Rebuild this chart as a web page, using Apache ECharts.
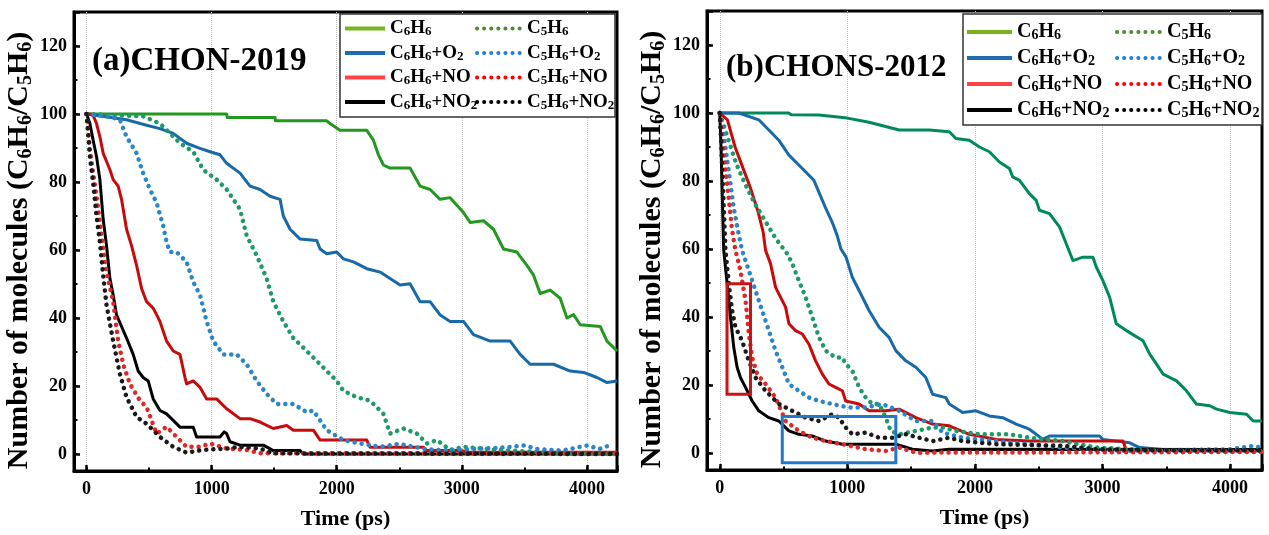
<!DOCTYPE html>
<html><head><meta charset="utf-8">
<script src="https://cdn.jsdelivr.net/npm/echarts@6/dist/echarts.min.js"></script>
<style>html,body{margin:0;padding:0;background:#fff}#c{width:1269px;height:535px}</style>
</head><body><div id="c"></div>
<script>
// ---------- DATA ----------
const solidNames = ['C6H6', 'C6H6+O2', 'C6H6+NO', 'C6H6+NO2'];
const dottedNames = ['C5H6', 'C5H6+O2', 'C5H6+NO', 'C5H6+NO2'];
const panelTitles = ['(a)CHON-2019', '(b)CHONS-2012'];
const xAxisName = 'Time (ps)';
const yAxisName = 'Number of molecules (C6H6/C5H6)';
const xRangeA = [-100, 4240];
const xRangeB = [-100, 4250];
const yRange = [-5, 130];

// Panel (a) CHON-2019
const a_C6H6 = [[0,100],[1120,100],[1125,99],[1507,99],[1510,98],[1920,98],[1946,97.2],[2026,95.2],[2240,95.2],[2293,92.3],[2333,88],[2373,85],[2426,84.1],[2586,84.1],[2666,78.8],[2746,77.8],[2826,74.9],[2906,75.4],[3013,71],[3066,68.1],[3173,68.6],[3253,66.1],[3333,60.3],[3440,59.4],[3520,55.5],[3573,52.6],[3626,47.2],[3706,48.2],[3786,45.8],[3840,40],[3893,41],[3946,38],[4106,37.5],[4160,33.2],[4240,30.3]];
const a_C6H6_O2 = [[0,100],[320,98.3],[480,96.7],[587,95.7],[693,94.3],[800,91.4],[907,89.9],[987,88.9],[1067,88],[1120,85.5],[1227,82.6],[1307,78.8],[1387,77.8],[1467,75.8],[1547,74.9],[1573,70],[1627,66.1],[1707,63.2],[1840,62.8],[1867,60.3],[1920,58.9],[2000,59.4],[2053,57.4],[2133,56.5],[2240,54.5],[2347,53.5],[2426,51.6],[2506,49.7],[2586,50.1],[2666,44.8],[2746,44.8],[2826,40.9],[2906,39],[3013,39],[3093,35.1],[3226,33.2],[3386,33.2],[3466,29.3],[3546,26.4],[3733,26.4],[3866,24.4],[3973,24],[4080,22.5],[4160,21],[4240,21.5]];
const a_C6H6_NO = [[0,100],[27,100],[53,99.6],[80,97.2],[107,93.3],[133,88.5],[187,83.6],[213,80.7],[253,78.8],[280,74.9],[320,66.1],[360,61.3],[400,55.5],[440,48.7],[480,44.8],[533,42.9],[587,39],[640,33.2],[693,30.3],[747,29.3],[787,22.5],[800,20.6],[853,21.5],[907,19.6],[960,16.2],[1040,16.2],[1120,13.3],[1227,10.4],[1307,10.4],[1387,9.4],[1493,7.5],[1600,8.4],[1653,7],[1813,7],[1867,4.1],[2240,4.1],[2266,2],[2693,2],[2720,1],[3000,1],[3050,0.5],[4240,0.5]];
const a_C6H6_NO2 = [[0,100],[27,97.2],[53,92.3],[80,87.5],[107,80.7],[133,69.1],[160,61.3],[187,51.6],[213,46.8],[240,40.9],[280,37.5],[320,34.1],[373,29.3],[413,24.4],[453,22.5],[493,21.5],[533,16.2],[587,12.8],[640,11.8],[693,9.9],[747,7.9],[853,7.9],[880,5],[1067,5],[1100,6.5],[1120,6],[1147,3.6],[1227,2.6],[1413,2.6],[1493,1],[1707,1],[1733,0],[4240,0]];
const a_C5H6 = [[0,100],[453,99.3],[587,97.2],[747,91.4],[853,88.9],[933,83.6],[1040,80.7],[1120,77.8],[1227,72],[1280,64.2],[1360,58.4],[1440,51.6],[1493,44.8],[1573,39],[1653,34.1],[1760,30.3],[1840,27.4],[1920,24.4],[2000,21.5],[2053,18.6],[2160,16.7],[2266,15.7],[2373,11.8],[2426,6],[2533,7.5],[2640,6],[2720,3.1],[2800,4.1],[2906,1.2],[3013,2.1],[3280,1.2],[3546,0.7],[3813,0.2],[4240,0]];
const a_C5H6_O2 = [[0,100],[187,99.2],[267,98.3],[320,93.3],[400,88.5],[453,82.6],[507,77.8],[560,73.9],[613,67.1],[640,62.3],[667,59.4],[720,59.4],[800,56.5],[853,50.6],[907,46.8],[960,39],[1013,33.2],[1093,29.3],[1200,29.3],[1280,26.4],[1360,21.5],[1440,17.7],[1520,14.7],[1653,14.7],[1760,12.3],[1813,12.8],[1920,7],[2053,4.1],[2187,3.1],[2347,2.1],[2500,3],[2700,1.5],[2900,1],[3100,1.5],[3300,1.8],[3500,2.5],[3600,1.5],[3800,1],[4000,2.5],[4100,1.5],[4200,2.8]];
const a_C5H6_NO = [[0,100],[13,95.3],[27,89.4],[53,82.6],[80,75.8],[107,68.1],[133,60.3],[160,53.5],[213,44.8],[253,33.2],[293,26.4],[347,20.6],[427,15.7],[480,13.8],[560,6],[640,8],[720,5],[800,2.1],[907,2.1],[987,3.1],[1120,1.6],[1280,1.2],[1387,0.2],[4240,0.2]];
const a_C5H6_NO2 = [[0,100],[13,94.3],[27,87.5],[53,79.7],[80,70],[107,62.3],[133,52.6],[160,43.8],[213,33.2],[267,23.5],[320,16.7],[400,10.9],[480,8.9],[587,5],[693,2.1],[800,0.4],[933,1.2],[1120,1.6],[1227,2.1],[1387,1.6],[1493,0.2],[4240,0]];

// Panel (b) CHONS-2012
const b_C6H6 = [[0,100],[540,100],[560,99.5],[778,99.4],[1000,98.5],[1170,97.3],[1406,95],[1642,95],[1799,94.5],[1851,92.5],[1956,92],[2035,90],[2113,88.6],[2192,85.6],[2270,83.7],[2296,81.2],[2349,80.2],[2427,76.3],[2480,74.3],[2506,71.4],[2584,70.4],[2663,66.5],[2715,61.6],[2768,56.6],[2846,57.6],[2925,57.6],[2951,54.7],[3003,50.7],[3056,45.8],[3108,38],[3187,36],[3318,33],[3370,29.1],[3422,26.2],[3475,23.2],[3580,21.2],[3658,18.3],[3736,14.4],[3841,13.9],[3894,12.9],[3998,11.9],[4129,11.4],[4181,9.4],[4250,9.4]];
const b_C6H6_O2 = [[0,100],[149,100],[306,98],[463,92],[542,87.6],[620,84.7],[738,80.2],[830,72],[880,68],[920,64],[950,60],[990,57.6],[1039,51.7],[1092,47.8],[1170,41.9],[1249,37],[1327,34],[1380,30.1],[1458,27.1],[1537,25.2],[1615,22.2],[1668,17.3],[1772,16.3],[1799,14.4],[1904,11.9],[2008,12.4],[2113,10.9],[2218,10.4],[2323,8.5],[2427,7],[2480,5.5],[2532,4],[2584,5],[2977,5],[3003,4],[3213,3],[3291,1.6],[3606,0.6],[4250,0.6]];
const b_C6H6_NO = [[0,100],[60,98],[120,90],[180,84],[240,78],[300,71],[340,65],[359,59.6],[398,55.7],[437,48.8],[463,46.8],[516,42.9],[542,38],[594,36],[647,35],[699,32],[751,27.1],[804,23.2],[856,20.3],[908,19.3],[961,18.3],[987,15.3],[1092,14.4],[1170,12.4],[1301,12.4],[1406,12.9],[1537,10.4],[1668,8.5],[1799,8],[1956,5.5],[2166,4],[2427,3.5],[3160,3.5],[3187,0.8],[4250,0.8]];
const b_C6H6_NO2 = [[0,100],[10,90],[20,75],[31,59.6],[58,49.8],[84,40],[110,31],[136,25.2],[162,22.2],[202,19.3],[254,15.3],[306,12.4],[385,10.4],[463,9.4],[542,6.5],[620,5.5],[725,5],[830,3.5],[961,2.6],[1380,2.6],[1510,1.1],[1668,0.6],[1798,1.1],[4250,1]];
const b_C5H6 = [[0,100],[60,93],[130,85],[200,79],[280,73],[360,68],[440,63],[529,58.6],[568,55.7],[620,50.7],[673,45.8],[725,40],[778,34],[830,30.1],[908,28.1],[961,28.1],[987,26.2],[1039,24.2],[1092,19.3],[1144,16.3],[1196,14.4],[1249,14.4],[1301,10.4],[1340,6.5],[1406,5.5],[1537,6.5],[1668,7.5],[1750,7.5],[1851,6.5],[2035,5.5],[2270,5.5],[2427,4.5],[2689,3.5],[2951,1.6],[3213,1.1],[3475,0.6],[4250,0.5]];
const b_C5H6_O2 = [[0,100],[30,94],[70,83],[110,72],[150,64],[175,59.6],[228,53.7],[280,47.8],[332,41.9],[385,36],[437,30.1],[490,25.2],[542,20.3],[620,18.3],[699,16.3],[778,15.3],[882,14.4],[1013,13.4],[1144,13.4],[1275,14.4],[1406,12.4],[1537,9.4],[1668,9.4],[1747,6],[1798,5.5],[1904,4.5],[2166,3.5],[2427,2.6],[2689,1.6],[3213,0.6],[3998,1.1],[4181,2.1],[4250,1.5]];
const b_C5H6_NO = [[0,100],[20,92],[45,83],[70,75],[95,66],[123,59.6],[162,53.7],[202,44.8],[228,35],[254,28.1],[293,23.2],[359,20.3],[437,16.3],[516,9.4],[620,6.5],[725,4.5],[830,3.5],[961,2.6],[1144,1.1],[1301,0.6],[1406,1.6],[1537,0.1],[4250,0.3]];
const b_C5H6_NO2 = [[0,100],[10,92],[25,78],[45,59.6],[71,49.8],[97,41.9],[123,37],[175,33],[228,27.1],[280,22.2],[359,18.3],[463,14.4],[568,12.4],[673,10.4],[778,9.4],[882,11.4],[934,10.4],[987,7.5],[1039,5.5],[1144,6],[1249,4.5],[1353,4.5],[1458,5.5],[1563,4.5],[1668,3.5],[1798,4.5],[1904,3.5],[2166,2.6],[2689,2.1],[2951,1.1],[3475,0.8],[4250,0.8]];

// highlight boxes in panel (b): [x1, y1], [x2, y2]
const boxRed = [[57, 49.8], [241, 17.3]];
const boxBlue = [[490, 10.7], [1380, -2.9]];

// ---------- STYLE ----------
const FF = '"Liberation Serif","Times New Roman",serif';
const colorsA = { 'C6H6':'#22991e', 'C6H6+O2':'#1769a8', 'C6H6+NO':'#c80a0a', 'C6H6+NO2':'#000000',
                  'C5H6':'#1d9a68', 'C5H6+O2':'#2b85c9', 'C5H6+NO':'#e02626', 'C5H6+NO2':'#1a1a1a' };
const colorsB = Object.assign({}, colorsA, { 'C6H6':'#00895a' });
const legendColors = { 'C6H6':'#78b41e', 'C6H6+O2':'#1f6db0', 'C6H6+NO':'#ff4444', 'C6H6+NO2':'#000000',
                       'C5H6':'#4c8c2e', 'C5H6+O2':'#1e7fd8', 'C5H6+NO':'#ff0000', 'C5H6+NO2':'#000000' };
const DOT = [0.1, 7];

function chem(s, n, sub) {
  let out = '', buf = '';
  for (let i = 0; i < s.length; i++) {
    const c = s[i], p = s[i - 1];
    if (/[0-9]/.test(c) && p && /[A-Za-z]/.test(p)) {
      if (buf) { out += '{' + n + '|' + buf + '}'; buf = ''; }
      out += '{' + sub + '|' + c + '}';
    } else buf += c;
  }
  if (buf) out += '{' + n + '|' + buf + '}';
  return out;
}

function mk(name, data, ai, color, dotted) {
  return {
    name, type: 'line', xAxisIndex: ai, yAxisIndex: ai, data, symbol: 'none',
    lineStyle: dotted ? { color, width: 4.5, type: DOT, cap: 'round' } : { color, width: 3, join: 'round' },
    itemStyle: { color }, z: dotted ? 3 : 2, animation: false
  };
}

function xAxes(gi, range) {
  return [
    { type: 'value', gridIndex: gi, min: range[0], max: range[1], splitNumber: 5, position: 'bottom',
      name: xAxisName, nameLocation: 'middle', nameGap: 37,
      nameTextStyle: { fontFamily: FF, fontWeight: 'bold', fontSize: 22, color: '#000' },
      axisLine: { show: true, onZero: false, lineStyle: { color: '#000', width: 3 } },
      axisTick: { show: true, inside: true, length: 6, lineStyle: { color: '#000', width: 2.5 } },
      axisLabel: { margin: 9, fontFamily: FF, fontWeight: 'bold', fontSize: 18, color: '#000',
                   formatter: v => (v % 1000 === 0 ? String(v) : '') },
      splitLine: { show: true, showMinLine: false, showMaxLine: false, lineStyle: { type: 'dotted', color: '#c4c4c4', width: 1 } } },
    { type: 'value', gridIndex: gi, min: range[0], max: range[1], splitNumber: 9, position: 'bottom',
      axisLine: { show: false, onZero: false },
      axisTick: { show: true, inside: true, length: 3.5, lineStyle: { color: '#000', width: 2 } },
      axisLabel: { show: false }, splitLine: { show: false } }
  ];
}
function yAxes(gi) {
  return [
    { type: 'value', gridIndex: gi, min: yRange[0], max: yRange[1], splitNumber: 7, position: 'left',
      name: chem(yAxisName, 'yn', 'ys'), nameLocation: 'middle', nameGap: 31, nameRotate: 90,
      nameTextStyle: { padding: [0, 18, 0, 0], rich: {
        yn: { fontFamily: FF, fontWeight: 'bold', fontSize: 30, color: '#000', lineHeight: 33 },
        ys: { fontFamily: FF, fontWeight: 'bold', fontSize: 20, color: '#000', lineHeight: 25, verticalAlign: 'bottom' } } },
      axisLine: { show: true, onZero: false, lineStyle: { color: '#000', width: 3 } },
      axisTick: { show: true, inside: true, length: 6, lineStyle: { color: '#000', width: 2.5 } },
      axisLabel: { margin: 7, fontFamily: FF, fontWeight: 'bold', fontSize: 18, color: '#000',
                   formatter: v => (v % 20 === 0 ? String(v) : '') },
      splitLine: { show: false } },
    { type: 'value', gridIndex: gi, min: yRange[0], max: yRange[1], splitNumber: 14, position: 'left',
      axisLine: { show: false, onZero: false },
      axisTick: { show: true, inside: true, length: 3.5, lineStyle: { color: '#000', width: 2 } },
      axisLabel: { show: false }, splitLine: { show: false } }
  ];
}
function legend(names, left, top, gap, fs, iw, dotted) {
  return {
    orient: 'vertical', left, top, itemGap: gap, itemWidth: iw, itemHeight: 14, padding: 0,
    selectedMode: false, z: 6,
    data: names.map(n => ({ name: n,
      itemStyle: { color: legendColors[n], opacity: 0 },
      lineStyle: { color: legendColors[n], width: 4, type: dotted ? DOT : 'solid', cap: dotted ? 'round' : 'butt', opacity: 1 } })),
    formatter: n => chem(n, 'n', 's'),
    textStyle: { rich: {
      n: { fontFamily: FF, fontWeight: 'bold', fontSize: fs, color: '#000', lineHeight: 20 },
      s: { fontFamily: FF, fontWeight: 'bold', fontSize: Math.round(fs * 0.68), color: '#000', lineHeight: 14, verticalAlign: 'bottom' } } }
  };
}

const dataA = [a_C6H6, a_C6H6_O2, a_C6H6_NO, a_C6H6_NO2];
const dataA5 = [a_C5H6, a_C5H6_O2, a_C5H6_NO, a_C5H6_NO2];
const dataB = [b_C6H6, b_C6H6_O2, b_C6H6_NO, b_C6H6_NO2];
const dataB5 = [b_C5H6, b_C5H6_O2, b_C5H6_NO, b_C5H6_NO2];

const series = [];
solidNames.forEach((n, i) => series.push(mk(n, dataA[i], 0, colorsA[n], false)));
dottedNames.forEach((n, i) => series.push(mk(n, dataA5[i], 0, colorsA[n], true)));
solidNames.forEach((n, i) => series.push(mk(n, dataB[i], 2, colorsB[n], false)));
dottedNames.forEach((n, i) => series.push(mk(n, dataB5[i], 2, colorsB[n], true)));
// highlight boxes
series.push({ type: 'line', xAxisIndex: 2, yAxisIndex: 2, data: [], symbol: 'none', z: 5,
  markArea: { silent: true, z: 5, itemStyle: { color: 'transparent' },
    data: [
      [{ coord: boxRed[0], itemStyle: { color: 'transparent', borderColor: '#c81414', borderWidth: 3 } }, { coord: boxRed[1] }],
      [{ coord: boxBlue[0], itemStyle: { color: 'transparent', borderColor: '#1e7ac8', borderWidth: 3 } }, { coord: boxBlue[1] }]
    ] } });

const chart = echarts.init(document.getElementById('c'), null, { renderer: 'canvas' });
chart.setOption({
  animation: false,
  backgroundColor: '#fff',
  title: [
    { text: panelTitles[0], left: 92, top: 45, padding: 0, textStyle: { fontFamily: FF, fontWeight: 'bold', fontSize: 33, color: '#000' } },
    { text: panelTitles[1], left: 726, top: 52, padding: 0, textStyle: { fontFamily: FF, fontWeight: 'bold', fontSize: 31, color: '#000' } }
  ],
  grid: [
    { left: 74, top: 12, width: 543, height: 461, show: true, borderColor: '#000', borderWidth: 3, backgroundColor: 'transparent' },
    { left: 707, top: 11, width: 555, height: 459, show: true, borderColor: '#000', borderWidth: 3, backgroundColor: 'transparent' }
  ],
  xAxis: [...xAxes(0, xRangeA), ...xAxes(1, xRangeB)],
  yAxis: [...yAxes(0), ...yAxes(1)],
  legend: [
    legend(solidNames, 343, 19, 5, 19, 40, false),
    legend(dottedNames, 475, 19, 5, 19, 45, true),
    legend(solidNames, 965, 22, 6, 20, 45, false),
    legend(dottedNames, 1115, 22, 6, 20, 45, true)
  ],
  graphic: [
    { type: 'rect', shape: { x: 340, y: 14, width: 275, height: 103 }, style: { fill: '#fff', stroke: '#333', lineWidth: 1.5 }, z: 4 },
    { type: 'rect', shape: { x: 963, y: 14, width: 299, height: 111 }, style: { fill: '#fff', stroke: '#333', lineWidth: 1.5 }, z: 4 }
  ],
  series
});
</script>
</body></html>
